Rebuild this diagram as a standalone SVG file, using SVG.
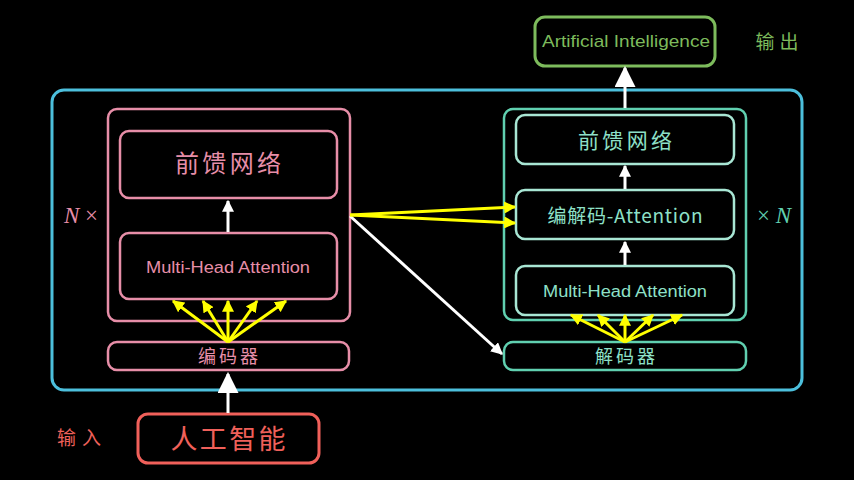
<svg xmlns="http://www.w3.org/2000/svg" width="854" height="480" viewBox="0 0 854 480">
<defs>
<style>
.cn{font-family:"Noto Sans CJK SC","Liberation Sans",sans-serif;}
.lat{font-family:"Liberation Sans","Noto Sans CJK SC",sans-serif;}
.mx{font-family:"Liberation Serif","DejaVu Serif",serif;font-size:23px;}
.box{fill:none;}
.pink{stroke:#e78ea8;}
.tealo{stroke:#60d0b0;}
.teali{stroke:#a8e6d4;}
.tp{fill:#e78ea8;}
.tt{fill:#8ee0c8;}
.yel{stroke:#ffff00;stroke-width:3;fill:none;marker-end:url(#ay);}
.wht{stroke:#ffffff;stroke-width:3;fill:none;}
</style>
<marker id="ay" viewBox="0 0 10 10" refX="9" refY="5" markerWidth="4" markerHeight="4" orient="auto" markerUnits="strokeWidth"><path d="M0,0 L10,5 L0,10 z" fill="#ffff00"/></marker>
<marker id="aw" viewBox="0 0 10 10" refX="9" refY="5" markerWidth="4" markerHeight="4" orient="auto" markerUnits="strokeWidth"><path d="M0,0 L10,5 L0,10 z" fill="#ffffff"/></marker>
<marker id="awb" viewBox="0 0 10 10" refX="9" refY="5" markerWidth="7" markerHeight="7" orient="auto" markerUnits="strokeWidth"><path d="M0,0 L10,5 L0,10 z" fill="#ffffff"/></marker>
</defs>
<rect width="854" height="480" fill="#000000"/>

<g id="container">
<rect x="52" y="90" width="750" height="300" rx="12" fill="none" stroke="#4cbfdc" stroke-width="3"/>
</g>

<g id="encoder-stack">
<rect class="box pink" x="108" y="109" width="242" height="212" rx="9" stroke-width="2.5"/>
<text class="mx" x="81" y="223" text-anchor="middle" fill="#e78ea8"><tspan font-style="italic">N</tspan> ×</text>
</g>
<g id="enc-ffn">
<rect class="box pink" x="120" y="131" width="217" height="67" rx="9" stroke-width="2.5"/>
<text class="cn tp" x="228" y="172" text-anchor="middle" font-size="24" textLength="106" lengthAdjust="spacing">前馈网络</text>
</g>
<g id="enc-mha">
<rect class="box pink" x="120" y="233" width="217" height="66" rx="9" stroke-width="2.5"/>
<text class="lat tp" x="228" y="273" text-anchor="middle" font-size="16" textLength="164" lengthAdjust="spacingAndGlyphs">Multi-Head Attention</text>
</g>
<g id="encoder">
<rect class="box pink" x="108" y="342" width="241" height="28" rx="9" stroke-width="2.5"/>
<text class="cn tp" x="228" y="362.5" text-anchor="middle" font-size="18" textLength="60" lengthAdjust="spacing">编码器</text>
</g>
<g id="input">
<rect x="138" y="414" width="181" height="49" rx="10" fill="none" stroke="#f0605a" stroke-width="3"/>
<text class="cn" x="228" y="449" text-anchor="middle" font-size="27" fill="#f0605a" textLength="115" lengthAdjust="spacing">人工智能</text>
<text class="cn" x="79" y="445" text-anchor="middle" font-size="19" fill="#f0605a" textLength="44" lengthAdjust="spacing">输入</text>
</g>

<g id="decoder-stack">
<rect class="box tealo" x="504" y="109" width="242" height="211" rx="9" stroke-width="2.5"/>
<text class="mx" x="774" y="223" text-anchor="middle" fill="#60d0b0">× <tspan font-style="italic">N</tspan></text>
</g>
<g id="dec-ffn">
<rect class="box teali" x="516" y="115" width="218" height="49" rx="9" stroke-width="2.5"/>
<text class="cn tt" x="625" y="147.5" text-anchor="middle" font-size="21" textLength="94" lengthAdjust="spacing">前馈网络</text>
</g>
<g id="dec-encdec">
<rect class="box teali" x="516" y="190" width="218" height="49" rx="9" stroke-width="2.5"/>
<text class="cn tt" x="625" y="222.5" text-anchor="middle" font-size="19" textLength="155" lengthAdjust="spacing">编解码-Attention</text>
</g>
<g id="dec-mha">
<rect class="box teali" x="516" y="266" width="218" height="49" rx="9" stroke-width="2.5"/>
<text class="lat tt" x="625" y="297" text-anchor="middle" font-size="16" textLength="164" lengthAdjust="spacingAndGlyphs">Multi-Head Attention</text>
</g>
<g id="decoder">
<rect class="box tealo" x="504" y="342" width="242" height="28" rx="9" stroke-width="2.5"/>
<text class="cn tt" x="625" y="362.5" text-anchor="middle" font-size="18" textLength="60" lengthAdjust="spacing">解码器</text>
</g>
<g id="output">
<rect x="535" y="17" width="180" height="49" rx="10" fill="none" stroke="#7dbb5c" stroke-width="3"/>
<text class="lat" x="626" y="47" text-anchor="middle" font-size="17" fill="#7dbb5c" textLength="168" lengthAdjust="spacingAndGlyphs">Artificial Intelligence</text>
<text class="cn" x="777" y="49" text-anchor="middle" font-size="19" fill="#7dbb5c" textLength="43" lengthAdjust="spacing">输出</text>
</g>

<g id="connectors">
<line class="wht" x1="228" y1="232" x2="228" y2="201" marker-end="url(#aw)"/>
<line class="wht" x1="228" y1="413" x2="228" y2="374" marker-end="url(#awb)"/>
<line class="wht" x1="625" y1="189" x2="625" y2="166" marker-end="url(#aw)"/>
<line class="wht" x1="625" y1="265" x2="625" y2="242" marker-end="url(#aw)"/>
<line class="wht" x1="625" y1="108" x2="625" y2="68" marker-end="url(#awb)"/>
<line class="wht" x1="350" y1="216" x2="502" y2="354" marker-end="url(#aw)"/>
<line class="yel" x1="228" y1="342" x2="173" y2="301"/>
<line class="yel" x1="228" y1="342" x2="203" y2="301"/>
<line class="yel" x1="228" y1="342" x2="228" y2="301"/>
<line class="yel" x1="228" y1="342" x2="257" y2="301"/>
<line class="yel" x1="228" y1="342" x2="286" y2="301"/>
<line class="yel" x1="625" y1="342" x2="571" y2="315"/>
<line class="yel" x1="625" y1="342" x2="598" y2="315"/>
<line class="yel" x1="625" y1="342" x2="625" y2="315"/>
<line class="yel" x1="625" y1="342" x2="653" y2="315"/>
<line class="yel" x1="625" y1="342" x2="682" y2="315"/>
<line class="yel" x1="350" y1="215" x2="515" y2="207"/>
<line class="yel" x1="350" y1="215" x2="515" y2="223"/>
</g>
</svg>
